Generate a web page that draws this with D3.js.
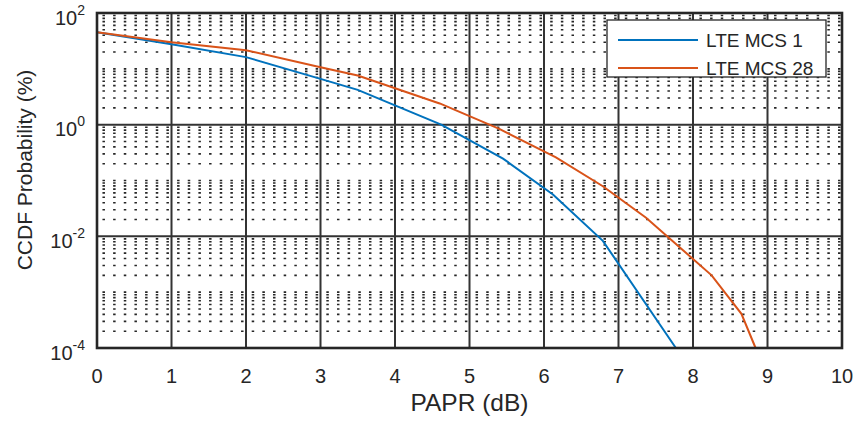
<!DOCTYPE html>
<html>
<head>
<meta charset="utf-8">
<script src="https://cdn.jsdelivr.net/npm/d3@7"></script>
<style>
  body { margin: 0; background: #fff; }
  svg { display: block; font-family: 'Liberation Sans', Arial, sans-serif; }
</style>
</head>
<body>
<div id="chart"></div>
<script>
'use strict';

// PAPR (dB) / CCDF (%)
const mcs1X = [0, 1, 2, 3, 3.5, 4.62, 5.45, 6.12, 6.79, 7.77];
const mcs1Y = [45, 27.5, 16.2, 6.6, 4.2, 1.0, 0.247, 0.056, 0.0083, 0.0001];
const mcs28X = [0, 1, 2, 3, 3.5, 4.6, 5.4, 6.16, 6.79, 7.37, 8.25, 8.65, 8.84];
const mcs28Y = [45, 30, 21.5, 10.7, 7.6, 2.4, 0.84, 0.26, 0.079, 0.0215, 0.002, 0.00041, 0.0001];
const seriesNames = ['LTE MCS 1', 'LTE MCS 28'];
const seriesColors = ['#0072BD', '#D95319'];
const xTicks = [0, 1, 2, 3, 4, 5, 6, 7, 8, 9, 10];
const yTickExp = [2, 0, -2, -4];

const render = () => {
  const W = 853;
  const H = 428;
  const margin = { left: 97, right: 11, top: 13, bottom: 80 };
  const width = W - margin.left - margin.right;
  const height = H - margin.top - margin.bottom;
  const ink = '#262626';

  const svg = d3.select('#chart')
    .append('svg')
    .attr('width', W)
    .attr('height', H);

  const chart = svg.append('g')
    .attr('transform', `translate(${margin.left}, ${margin.top})`);

  const xScale = d3.scaleLinear().domain([0, 10]).range([0, width]);
  const yScale = d3.scaleLog().domain([1e-4, 1e2]).range([height, 0]);

  // minor log grid (dotted)
  const minor = [];
  for (let e = -4; e < 2; e++) {
    for (let m = 1; m <= 9; m++) {
      if (m === 1 && e % 2 === 0) continue;
      minor.push(m * Math.pow(10, e));
    }
  }
  chart.append('g')
    .selectAll('line')
    .data(minor)
    .enter()
    .append('line')
    .attr('x1', 0)
    .attr('x2', width)
    .attr('y1', d => yScale(d))
    .attr('y2', d => yScale(d))
    .attr('stroke', ink)
    .attr('stroke-width', 1.6)
    .attr('stroke-dasharray', '2.5 8.16')
    .attr('stroke-dashoffset', 5.2);

  // major grid
  chart.append('g')
    .selectAll('line')
    .data(xTicks.slice(1, -1))
    .enter()
    .append('line')
    .attr('x1', d => xScale(d))
    .attr('x2', d => xScale(d))
    .attr('y1', 0)
    .attr('y2', height)
    .attr('stroke', '#333')
    .attr('stroke-width', 2);

  chart.append('g')
    .selectAll('line')
    .data(yTickExp.slice(1, -1))
    .enter()
    .append('line')
    .attr('x1', 0)
    .attr('x2', width)
    .attr('y1', d => yScale(Math.pow(10, d)))
    .attr('y2', d => yScale(Math.pow(10, d)))
    .attr('stroke', '#333')
    .attr('stroke-width', 2);

  // series
  const line = d3.line()
    .x(d => xScale(d[0]))
    .y(d => yScale(d[1]));

  const series = [
    d3.zip(mcs1X, mcs1Y),
    d3.zip(mcs28X, mcs28Y),
  ];

  chart.append('g')
    .selectAll('path')
    .data(series)
    .enter()
    .append('path')
    .attr('d', line)
    .attr('fill', 'none')
    .attr('stroke', (d, i) => seriesColors[i])
    .attr('stroke-width', 2);

  // axes box
  chart.append('rect')
    .attr('width', width)
    .attr('height', height)
    .attr('fill', 'none')
    .attr('stroke', ink)
    .attr('stroke-width', 2.6);

  // x tick labels
  chart.append('g')
    .selectAll('text')
    .data(xTicks)
    .enter()
    .append('text')
    .attr('x', d => xScale(d))
    .attr('y', height + 35)
    .attr('text-anchor', 'middle')
    .attr('font-size', 20)
    .attr('fill', ink)
    .text(d => d);

  // y tick labels, 10^n
  const yLab = chart.append('g')
    .selectAll('text')
    .data(yTickExp)
    .enter()
    .append('text')
    .attr('x', -12)
    .attr('y', d => yScale(Math.pow(10, d)) + 11.5)
    .attr('text-anchor', 'end')
    .attr('font-size', 20)
    .attr('fill', ink);
  yLab.append('tspan').text('10');
  yLab.append('tspan')
    .attr('font-size', 14)
    .attr('dy', -10)
    .text(d => d);

  // axis titles
  svg.append('text')
    .attr('x', margin.left + width / 2)
    .attr('y', 411)
    .attr('text-anchor', 'middle')
    .attr('font-size', 24.5)
    .attr('fill', ink)
    .text('PAPR (dB)');

  svg.append('text')
    .attr('transform', 'translate(32, 170) rotate(-90)')
    .attr('text-anchor', 'middle')
    .attr('font-size', 21)
    .attr('fill', ink)
    .text('CCDF Probability (%)');

  // legend
  const legend = svg.append('g')
    .attr('transform', 'translate(607, 20)');
  legend.append('rect')
    .attr('width', 219)
    .attr('height', 57)
    .attr('fill', '#fff')
    .attr('stroke', ink)
    .attr('stroke-width', 1.3);
  const items = legend.selectAll('g')
    .data(seriesNames)
    .enter()
    .append('g')
    .attr('transform', (d, i) => `translate(0, ${20 + i * 28})`);
  items.append('line')
    .attr('x1', 11)
    .attr('x2', 91)
    .attr('stroke', (d, i) => seriesColors[i])
    .attr('stroke-width', 2);
  items.append('text')
    .attr('x', 99)
    .attr('y', 6.5)
    .attr('font-size', 19)
    .attr('fill', ink)
    .text(d => d);
};

render();
</script>
</body>
</html>
